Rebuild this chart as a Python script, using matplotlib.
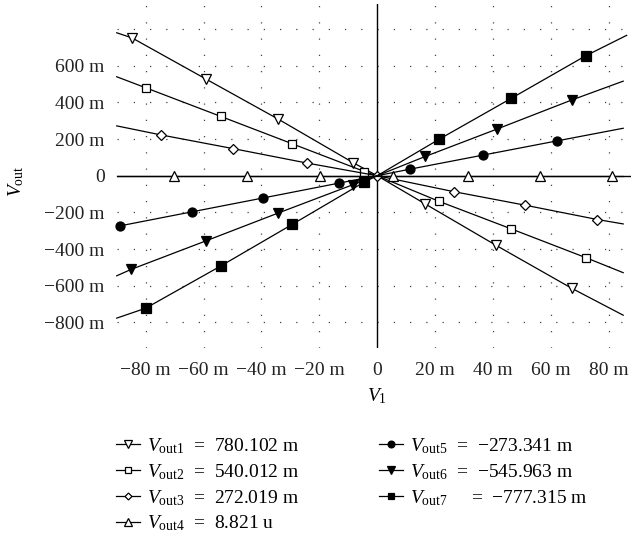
import numpy as np
import matplotlib
matplotlib.use('Agg')
import matplotlib.pyplot as plt
from matplotlib import rcParams

rcParams['font.family'] = ['Liberation Serif', 'DejaVu Serif']
rcParams['mathtext.fontset'] = 'custom'
rcParams['mathtext.rm'] = 'Liberation Serif'
rcParams['mathtext.it'] = 'Liberation Serif:italic'
rcParams['font.size'] = 14

# values in mV
x1 = [-90, -84.7, -59.1, -34.1, -8.4, 0, 16.6, 41.1, 67.2, 85]
y1 = [780, 752, 527, 308, 72, 0, -154, -380, -614, -761]
x2 = [-90, -80, -54.1, -29.3, -4.4, 0, 21.4, 46.3, 72.1, 85]
y2 = [540, 480, 324, 174, 23, 0, -140, -290, -447, -529]
x3 = [-90, -74.8, -49.8, -24.2, 0, 26.5, 51.2, 76.1, 85]
y3 = [272, 223, 148, 69, 0, -87, -161, -239, -263]
x4 = [-90, -70.1, -45.1, -19.9, 5.6, 31.4, 56.3, 81.1, 85]
y4 = [0, 0, 0, 0, 0, 0, 0, 0, 0]
x5 = [-90, -89, -64, -39.3, -13.1, 0, 11.4, 36.4, 62.1, 85]
y5 = [-276, -274, -197, -121, -40, 0, 36, 112, 190, 259]
x6 = [-90, -85, -59.1, -34.1, -8.4, 0, 16.6, 41.3, 67.2, 85]
y6 = [-546, -511, -355, -203, -49, 0, 105, 254, 413, 516]
x7 = [-90, -80, -54.1, -29.4, -4.4, 0, 21.4, 46.3, 72, 86.2]
y7 = [-777, -723, -493, -266, -34, 0, 199, 422, 654, 766]

# which points carry a marker
marks1 = [1, 2, 3, 4, 6, 7, 8]
marks2 = [1, 2, 3, 4, 6, 7, 8]
marks3 = [1, 2, 3, 4, 5, 6, 7]
marks4 = [1, 2, 3, 4, 5, 6, 7]
marks5 = [1, 2, 3, 4, 6, 7, 8]
marks6 = [1, 2, 3, 4, 6, 7, 8]
marks7 = [1, 2, 3, 4, 6, 7, 8]

names = ['out1', 'out2', 'out3', 'out4', 'out5', 'out6', 'out7']
values = ['780.102 m', '540.012 m', '272.019 m', '8.821 u',
          '\u2212273.341 m', '\u2212545.963 m', '\u2212777.315 m']

xticks = [-80, -60, -40, -20, 0, 20, 40, 60, 80]
xticklabels = ['\u221280 m', '\u221260 m', '\u221240 m', '\u221220 m', '0',
               '20 m', '40 m', '60 m', '80 m']
yticks = [-800, -600, -400, -200, 0, 200, 400, 600, 800]
yticklabels = ['\u2212800 m', '\u2212600 m', '\u2212400 m', '\u2212200 m', '0',
               '200 m', '400 m', '600 m', '']

styles = [('v', 'white', 7), ('s', 'white', 6.3), ('D', 'white', 4.7),
          ('^', 'white', 7), ('o', 'black', 6.5), ('v', 'black', 7),
          ('s', 'black', 6.5)]

fig = plt.figure(figsize=(6.31, 5.43), dpi=100)
ax = fig.add_axes([117 / 631, 1 - 348 / 543, 1 - 117 / 631, 344 / 543])
ax.set_xlim(-89.9, 87.7)
ax.set_ylim(-940, 937)

for s in ax.spines.values():
    s.set_visible(False)

ax.set_xticks(xticks)
ax.set_xticklabels(xticklabels)
ax.set_yticks(yticks)
ax.set_yticklabels(yticklabels)
ax.tick_params(length=0, colors='#222222')
ax.tick_params(axis='y', pad=9)
ax.tick_params(axis='x', pad=10)

gx = [v for v in xticks if v != 0]
gy = [v for v in yticks if v != 0]
for v in gx:
    ax.axvline(v, color='#444444', lw=0.9, ls=(0, (1, 12)), zorder=0)
for v in gy:
    ax.axhline(v, color='#444444', lw=0.9, ls=(0, (1, 12)), zorder=0)
ax.axvline(0, color='black', lw=1.0, zorder=1)
ax.axhline(0, color='black', lw=1.0, zorder=1)

xs = [x1, x2, x3, x4, x5, x6, x7]
ys = [y1, y2, y3, y4, y5, y6, y7]
marks = [marks1, marks2, marks3, marks4, marks5, marks6, marks7]
handles = []
for i in range(7):
    m, fc, ms = styles[i]
    ax.plot(xs[i], ys[i], color='black', lw=0.9, marker=m, markevery=marks[i],
            mfc=fc, mec='black', ms=ms, mew=0.9, zorder=3, clip_on=False)
    lab = r'$V_{\mathrm{%s}}$' % names[i]
    if i == 6:
        lab += '     =  ' + values[i]
    else:
        lab += '  =  ' + values[i]
    h, = ax.plot([], [], color='black', lw=0.9, marker=m, mfc=fc, mec='black',
                 ms=ms * 0.75, mew=0.9, label=lab)
    handles.append(h)

ax.set_xlabel(r'$V_1$')
ax.set_ylabel(r'$V_{\mathrm{out}}$')
ax.xaxis.set_label_coords((377 - 117) / 514, -38 / 344)
ax.yaxis.set_label_coords(-91 / 514, (348 - 181) / 344)

fig.legend(handles=handles, ncol=2, loc='upper left',
           bbox_to_anchor=(116 / 631, 1 - 436 / 543), frameon=False,
           handlelength=1.25, handletextpad=0.35, columnspacing=4.1,
           labelspacing=0.32, borderaxespad=0, borderpad=0)

fig.savefig('out.png', dpi=100)
